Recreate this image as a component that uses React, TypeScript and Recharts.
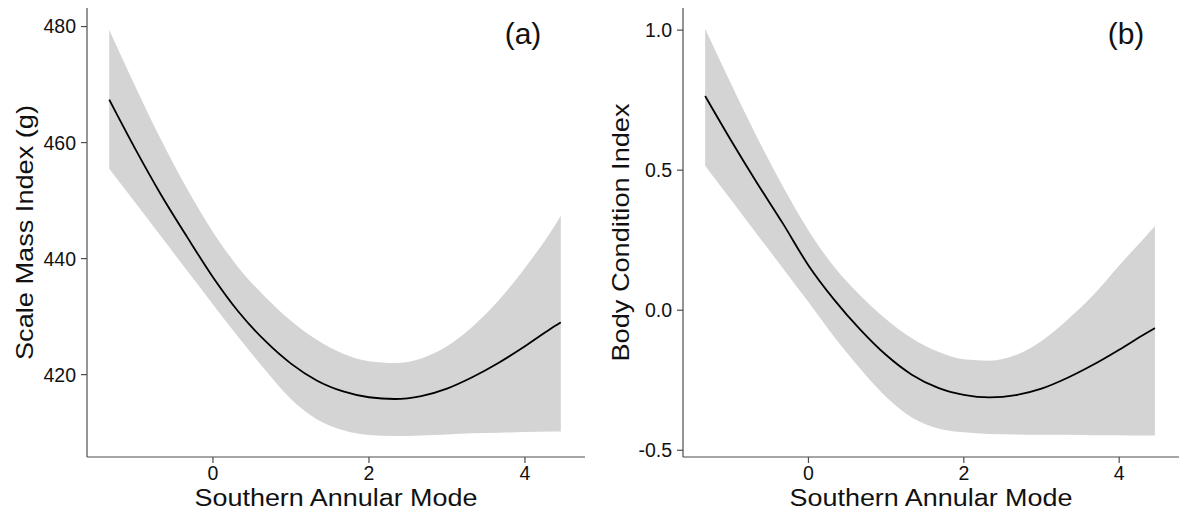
import { Area, ComposedChart, Line, XAxis, YAxis } from "recharts";

// Southern Annular Mode values where the fits were read
const sam = [-1.33, -1.0, -0.67, -0.33, 0, 0.33, 0.67, 1.0, 1.33, 1.67, 2.0, 2.33, 2.67, 3.0, 3.33, 3.67, 4.0, 4.33, 4.46];

// (a) scale mass index (g)
const massFit = [467.4, 459.0, 451.1, 443.7, 436.8, 430.8, 425.8, 421.9, 419.0, 417.1, 416.1, 415.8, 416.3, 417.6, 419.6, 422.1, 424.9, 427.9, 429.0];
const massUpper = [479.4, 469.8, 460.6, 452.0, 444.6, 438.4, 433.4, 429.3, 426.0, 423.6, 422.3, 422.0, 422.8, 424.9, 428.3, 432.9, 438.4, 444.6, 447.4];
const massLower = [455.5, 449.7, 443.9, 437.9, 432.1, 426.4, 420.8, 415.8, 412.3, 410.4, 409.6, 409.4, 409.5, 409.7, 409.9, 410.0, 410.1, 410.2, 410.2];

// (b) body condition index
const bciFit = [0.765, 0.608, 0.458, 0.31, 0.16, 0.038, -0.07, -0.16, -0.23, -0.277, -0.302, -0.311, -0.303, -0.28, -0.242, -0.194, -0.141, -0.085, -0.064];
const bciUpper = [1.005, 0.81, 0.622, 0.443, 0.285, 0.155, 0.052, -0.032, -0.1, -0.148, -0.175, -0.18, -0.16, -0.11, -0.035, 0.055, 0.16, 0.26, 0.3];
const bciLower = [0.516, 0.395, 0.274, 0.15, 0.029, -0.095, -0.21, -0.31, -0.383, -0.422, -0.436, -0.442, -0.444, -0.445, -0.445, -0.446, -0.446, -0.447, -0.447];

const samTicks = [0, 2, 4];
const massTicks = [420, 440, 460, 480];
const bciTicks = [-0.5, 0, 0.5, 1.0];

const FONT = '"Liberation Sans", Arial, sans-serif';
const AXIS = "#4d4d4d";
const TEXT = "#111";

const H = 520;
const TOP = 8;
const YAXIS_W = 87;
const XAXIS_H = 63;

function rows(fit: number[], lower: number[], upper: number[]) {
  return sam.map((x, i) => ({ x, fit: fit[i], band: [lower[i], upper[i]] }));
}

function Panel({
  data,
  width,
  right,
  yDomain,
  yTicks,
  fmt,
}: {
  data: { x: number; fit: number; band: number[] }[];
  width: number;
  right: number;
  yDomain: [number, number];
  yTicks: number[];
  fmt?: (v: number) => string;
}) {
  const tick = { fill: TEXT, fontSize: 19.5, fontFamily: FONT };
  return (
    <ComposedChart
      width={width}
      height={H}
      data={data}
      margin={{ top: TOP, right, bottom: 0, left: 0 }}
    >
      <XAxis
        type="number"
        dataKey="x"
        domain={[-1.615, 4.77]}
        ticks={samTicks}
        allowDataOverflow
        height={XAXIS_H}
        tick={tick}
        tickSize={6}
        tickMargin={3}
        stroke={AXIS}
        strokeWidth={1.2}
      />
      <YAxis
        type="number"
        domain={yDomain}
        ticks={yTicks}
        allowDataOverflow
        width={YAXIS_W}
        tick={tick}
        tickSize={6}
        tickMargin={5}
        tickFormatter={fmt}
        stroke={AXIS}
        strokeWidth={1.2}
      />
      <Area
        dataKey="band"
        type="monotone"
        fill="#d4d4d4"
        fillOpacity={1}
        stroke="none"
        isAnimationActive={false}
        activeDot={false}
      />
      <Line
        dataKey="fit"
        type="monotone"
        stroke="#000"
        strokeWidth={1.8}
        dot={false}
        activeDot={false}
        isAnimationActive={false}
      />
    </ComposedChart>
  );
}

const titleStyle = { fontFamily: FONT, fontSize: 23, fill: TEXT };
const vTitleStyle = { fontFamily: FONT, fontSize: 24.5, fill: TEXT };

export default function App() {
  const aLeft = 0;
  const aWidth = 600;
  const aRight = 15;
  const bLeft = 596;
  const bWidth = 588;
  const bRight = 5;
  const plotBottom = H - XAXIS_H;
  const midY = (TOP + plotBottom) / 2;
  const aMidX = aLeft + (YAXIS_W + aWidth - aRight) / 2;
  const bMidX = bLeft + (YAXIS_W + bWidth - bRight) / 2;
  const aTitleX = aLeft + YAXIS_W - 54;
  const bTitleX = bLeft + YAXIS_W - 54;

  return (
    <div style={{ position: "absolute", left: 0, top: 0, width: 1184, height: H, background: "#fff" }}>
      <div style={{ position: "absolute", left: aLeft, top: 0 }}>
        <Panel
          data={rows(massFit, massLower, massUpper)}
          width={aWidth}
          right={aRight}
          yDomain={[405.8, 483.2]}
          yTicks={massTicks}
        />
      </div>
      <div style={{ position: "absolute", left: bLeft, top: 0 }}>
        <Panel
          data={rows(bciFit, bciLower, bciUpper)}
          width={bWidth}
          right={bRight}
          yDomain={[-0.524, 1.079]}
          yTicks={bciTicks}
          fmt={(v) => v.toFixed(1)}
        />
      </div>
      <svg
        width={1184}
        height={H}
        style={{ position: "absolute", left: 0, top: 0, pointerEvents: "none" }}
      >
        <text x={aMidX} y={506} textAnchor="middle" textLength={283} lengthAdjust="spacingAndGlyphs" style={titleStyle}>
          Southern Annular Mode
        </text>
        <text x={bMidX} y={506} textAnchor="middle" textLength={283} lengthAdjust="spacingAndGlyphs" style={titleStyle}>
          Southern Annular Mode
        </text>
        <text
          x={aTitleX}
          y={midY}
          transform={`rotate(-90 ${aTitleX} ${midY})`}
          textAnchor="middle"
          textLength={255}
          lengthAdjust="spacingAndGlyphs"
          style={vTitleStyle}
        >
          Scale Mass Index (g)
        </text>
        <text
          x={bTitleX}
          y={midY}
          transform={`rotate(-90 ${bTitleX} ${midY})`}
          textAnchor="middle"
          textLength={258}
          lengthAdjust="spacingAndGlyphs"
          style={vTitleStyle}
        >
          Body Condition Index
        </text>
        <text x={523} y={44} textAnchor="middle" style={{ fontFamily: FONT, fontSize: 30, fill: TEXT }}>
          (a)
        </text>
        <text x={1126} y={44} textAnchor="middle" style={{ fontFamily: FONT, fontSize: 30, fill: TEXT }}>
          (b)
        </text>
      </svg>
    </div>
  );
}
